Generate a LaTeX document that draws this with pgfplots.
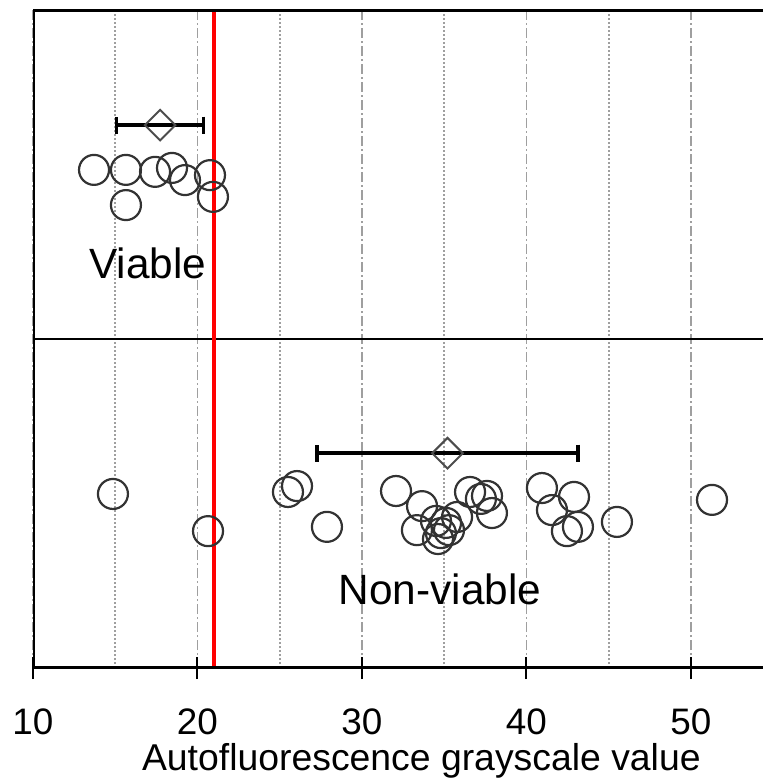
\documentclass[border=0pt]{standalone}
\usepackage{fontspec}
\setmainfont{Liberation Sans}
\usepackage{pgfplots}
\pgfplotsset{compat=1.18}
\begin{document}
\begin{tikzpicture}
\begin{axis}[
  name=ax,
  scale only axis, width=730bp, height=658bp,
  xmin=10, xmax=54.38, ymin=0, ymax=2,
  axis line style={draw=none},
  xtick={10,20,30,40,50}, minor xtick={15,25,35,45},
  ytick=\empty,
  xtick pos=left,
  tick align=center,
  major tick length=22bp, minor tick length=0pt,
  major tick style={black, line width=2bp},
  xmajorgrids, xminorgrids,
  major grid style={gray!75, line width=1.6bp, dash pattern=on 10bp off 3bp on 2bp off 3bp},
  minor grid style={gray!75, line width=1.6bp, dash pattern=on 2bp off 2bp},
  /pgf/number format/assume math mode=true,
  xticklabel style={font=\fontsize{37}{37}\selectfont, anchor=base, inner sep=0pt, yshift=-55bp},
  xlabel={Autofluorescence grayscale value},
  xlabel style={at={(rel axis cs:0.532,0)}, anchor=base, yshift=-102bp, font=\fontsize{37.5}{37.5}\selectfont, inner sep=0pt},
]
% horizontal separator
\draw[black, line width=2bp] (axis cs:10,1) -- (axis cs:54.38,1);
% viable
\addplot[only marks, mark=o, mark size=15bp, mark options={draw=black!80, line width=2.2bp}] coordinates {
(13.71,1.514) (15.65,1.514) (17.42,1.508) (18.45,1.520) (19.24,1.483) (20.76,1.498) (20.94,1.432) (15.65,1.407)
};
% non-viable
\addplot[only marks, mark=o, mark size=15bp, mark options={draw=black!80, line width=2.2bp}] coordinates {
(14.86,0.529) (20.64,0.416) (25.50,0.535) (26.05,0.553) (27.87,0.429) (32.07,0.538) (33.65,0.492) (33.34,0.419)
(34.50,0.447) (34.80,0.410) (34.62,0.392) (35.11,0.441) (35.29,0.419) (35.78,0.459) (36.57,0.535) (37.23,0.514)
(37.60,0.523) (37.90,0.471) (40.94,0.547) (41.55,0.480) (42.89,0.520) (43.13,0.429) (42.46,0.416) (45.50,0.444)
(51.28,0.511)
};
% mean +- sd
\addplot[draw=none, mark=none, error bars/.cd, x dir=both, x explicit,
  error bar style={line width=3.5bp, black},
  error mark=|,
  error mark options={rotate=0, mark size=8.5bp, line width=3.5bp, black}] coordinates {
(17.73,1.65) +- (2.64,0)
(35.2,0.653) +- (7.94,0)
};
\addplot[only marks, mark=square, mark size=10.8bp, mark options={rotate=45, draw=black!70, line width=2bp}] coordinates {
(17.73,1.65) (35.2,0.653)
};
% threshold
\draw[red, line width=3.5bp] (axis cs:21,0) -- (axis cs:21,2);
% frame
\draw[black, line width=3.5bp, line cap=rect] (axis cs:54.38,2) -- (axis cs:10,2) -- (axis cs:10,0) -- (axis cs:54.38,0);
\node[font=\fontsize{42.5}{42.5}\selectfont, anchor=base, inner sep=0pt] at (axis cs:16.99,1.185) {Viable};
\node[font=\fontsize{42.5}{42.5}\selectfont, anchor=base, inner sep=0pt] at (axis cs:34.74,0.1945) {Non-viable};
\end{axis}
\pgfresetboundingbox
\path[use as bounding box] ([shift={(-33bp,-111bp)}]ax.south west) rectangle ([shift={(0bp,10bp)}]ax.north east);
\end{tikzpicture}
\end{document}
